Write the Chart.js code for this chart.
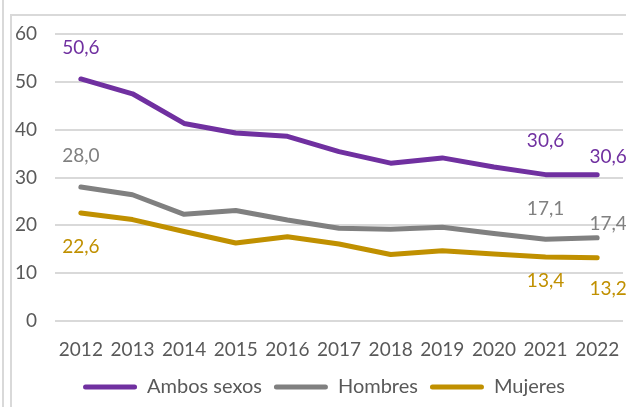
<!DOCTYPE html>
<html>
<head>
<meta charset="utf-8">
<script src="https://cdn.jsdelivr.net/npm/chart.js@4.4.1/dist/chart.umd.min.js"></script>
<style>
  html, body { margin: 0; padding: 0; background: #fff; overflow: hidden; width: 626px; height: 407px; position: relative; }
  #outer { position: absolute; left: 2px; top: 0; width: 2px; height: 407px; background: #d9d9d9; }
  #frame { position: absolute; left: 10px; top: 14px; width: 640px; height: 420px; border-left: 2px solid #d9d9d9; border-top: 2px solid #d9d9d9; box-sizing: border-box; }
  #wrap { position: absolute; left: -5px; top: 16px; width: 658px; height: 391px; }
</style>
</head>
<body>
<div id="outer"></div>
<div id="frame"></div>
<div id="wrap"><canvas id="c"></canvas></div>
<script>
const years = ['2012','2013','2014','2015','2016','2017','2018','2019','2020','2021','2022'];
const ambosSexos = [50.6, 47.5, 41.3, 39.3, 38.6, 35.4, 33.0, 34.1, 32.2, 30.6, 30.6];
const hombres   = [28.0, 26.4, 22.3, 23.1, 21.1, 19.4, 19.2, 19.6, 18.3, 17.1, 17.4];
const mujeres   = [22.6, 21.2, 18.7, 16.3, 17.6, 16.1, 13.9, 14.7, 14.0, 13.4, 13.2];
const seriesNames = ['Ambos sexos', 'Hombres', 'Mujeres'];
const labelledIdx = [0, 9, 10];

const colors = ['#7030A0', '#808080', '#C09000'];
// label offsets [dx, dy] relative to point, per dataset and labelled index
const labelOffsets = [
  [[0, -31], [0, -34], [11, -18]],
  [[0, -31], [0, -30], [11, -14]],
  [[0, 34], [0, 24], [11, 31]]
];

const fmt = v => v.toFixed(1).replace('.', ',');

const dataLabels = {
  id: 'dataLabels',
  afterDatasetsDraw(chart) {
    const ctx = chart.ctx;
    ctx.save();
    ctx.font = '19px Lato';
    ctx.textAlign = 'center';
    ctx.textBaseline = 'middle';
    chart.data.datasets.forEach((ds, di) => {
      const meta = chart.getDatasetMeta(di);
      labelledIdx.forEach((idx, k) => {
        const pt = meta.data[idx];
        const off = labelOffsets[di][k];
        ctx.fillStyle = colors[di];
        ctx.fillText(fmt(ds.data[idx]), pt.x + off[0], pt.y + off[1]);
      });
    });
    ctx.restore();
  }
};

// centre the legend under the whole frame rather than the clipped canvas
const legendShift = {
  id: 'legendShift',
  afterLayout(chart) {
    if (chart.legend) { chart.legend.left += 14; chart.legend.right += 14; }
  }
};

new Chart(document.getElementById('c'), {
  type: 'line',
  data: {
    labels: years,
    datasets: [ambosSexos, hombres, mujeres].map((d, i) => ({
      label: seriesNames[i],
      data: d,
      borderColor: colors[i],
      backgroundColor: colors[i],
      borderWidth: 5,
      pointRadius: 0,
      borderCapStyle: 'round',
      borderJoinStyle: 'round',
      tension: 0
    }))
  },
  options: {
    responsive: true,
    maintainAspectRatio: false,
    animation: false,
    layout: { padding: { left: 2, right: 30, top: 0, bottom: 0 } },
    plugins: {
      tooltip: { enabled: false },
      legend: {
        position: 'bottom',
        labels: {
          font: { family: 'Lato', size: 20 },
          color: '#595959',
          boxWidth: 54,
          boxHeight: 5,
          padding: 12,
          useBorderRadius: true,
          borderRadius: 2.5,
          generateLabels(chart) {
            return chart.data.datasets.map((ds, i) => ({
              text: ds.label,
              fillStyle: colors[i],
              strokeStyle: colors[i],
              lineWidth: 0,
              borderRadius: 2.5,
              fontColor: '#595959',
              datasetIndex: i
            }));
          }
        }
      }
    },
    scales: {
      x: {
        offset: true,
        grid: { display: false, drawTicks: false },
        border: { display: false },
        ticks: { font: { family: 'Lato', size: 19 }, color: '#595959', padding: 17, maxRotation: 0, autoSkip: false },
        afterFit(scale) { scale.height = 44; }
      },
      y: {
        min: 0, max: 60,
        grid: { color: '#d9d9d9', lineWidth: 2, drawTicks: false },
        border: { display: false },
        ticks: { stepSize: 10, font: { family: 'Lato', size: 19 }, color: '#595959', padding: 18 },
        afterFit(scale) {
          scale.paddingTop = 18;
          scale.paddingBottom = 0;
        }
      }
    }
  },
  plugins: [dataLabels, legendShift]
});
</script>
</body>
</html>
